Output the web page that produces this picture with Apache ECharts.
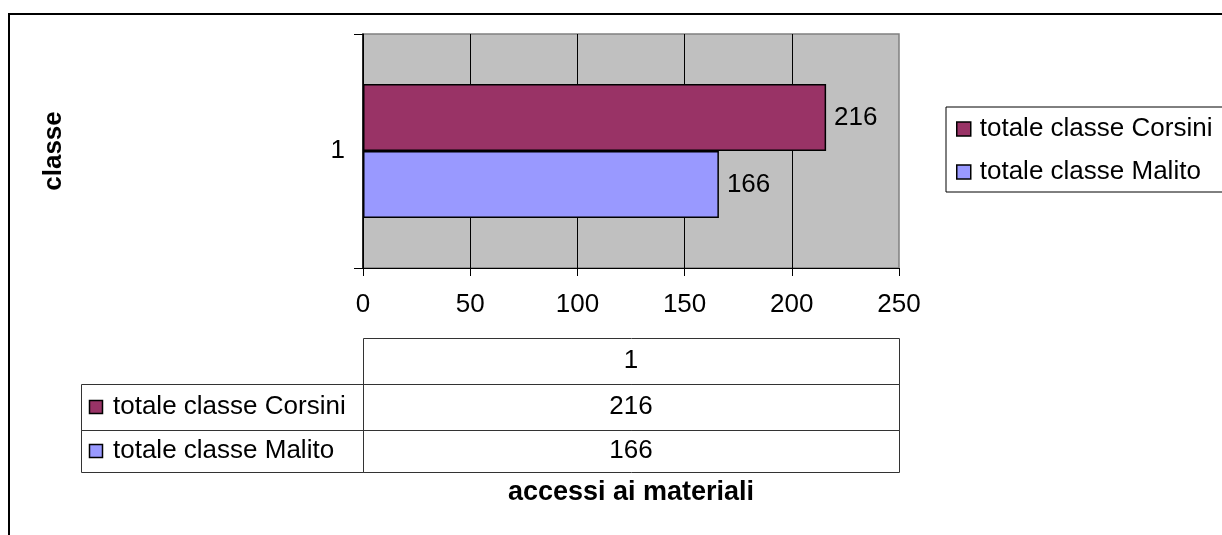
<!DOCTYPE html>
<html>
<head>
<meta charset="utf-8">
<script src="https://cdn.jsdelivr.net/npm/echarts@6/dist/echarts.min.js"></script>
<style>
  html, body { margin: 0; padding: 0; background: #fff; }
  #chart { width: 1222px; height: 535px; }
</style>
</head>
<body>
<div id="chart"></div>
<script>
// Categories on the vertical axis
const categories = ['1'];
// Series names and values
const seriesNames = ['totale classe Corsini', 'totale classe Malito'];
const corsiniValues = [216];
const malitoValues = [166];
const seriesColors = ['#993366', '#9999ff'];
// Value axis range
const axisMin = 0;
const axisMax = 250;
const axisStep = 50;
// Axis titles
const yTitle = 'classe';
const xTitle = 'accessi ai materiali';

const FONT = "'Liberation Sans', Arial, sans-serif";
const FS = 26;

const W = 1222, H = 535;
const plotLeft = 363, plotRight = 899, plotTop = 34, plotBottom = 268;

const seriesValues = [corsiniValues, malitoValues];

// Data table under the plot
const rowBounds = [338, 384, 430, 472];
const tableLabelLeft = 81;
const tableMid = (plotLeft + plotRight) / 2;
const lineColor = '#333';

const graphic = [];
// outer frame
graphic.push({
  type: 'rect', shape: { x: 9, y: 14, width: W + 20, height: H + 20 },
  style: { fill: 'none', stroke: '#000', lineWidth: 2 }, silent: true
});
// header cell
graphic.push({
  type: 'rect', shape: { x: plotLeft + 0.5, y: rowBounds[0] + 0.5, width: plotRight - plotLeft, height: rowBounds[1] - rowBounds[0] },
  style: { fill: 'none', stroke: lineColor, lineWidth: 1 }
});
graphic.push({
  type: 'text', x: tableMid, y: (rowBounds[0] + rowBounds[1]) / 2,
  style: { text: categories[0], font: FS + 'px ' + FONT, fill: '#000', align: 'center', verticalAlign: 'middle' }
});
seriesNames.forEach((name, i) => {
  const y0 = rowBounds[i + 1], y1 = rowBounds[i + 2];
  const cy = (y0 + y1) / 2;
  graphic.push({
    type: 'rect', shape: { x: tableLabelLeft + 0.5, y: y0 + 0.5, width: plotLeft - tableLabelLeft, height: y1 - y0 },
    style: { fill: 'none', stroke: lineColor, lineWidth: 1 }
  });
  graphic.push({
    type: 'rect', shape: { x: plotLeft + 0.5, y: y0 + 0.5, width: plotRight - plotLeft, height: y1 - y0 },
    style: { fill: 'none', stroke: lineColor, lineWidth: 1 }
  });
  graphic.push({
    type: 'rect', shape: { x: 89.5, y: Math.round(cy - 7) + 0.5, width: 13, height: 13 },
    style: { fill: seriesColors[i], stroke: '#000', lineWidth: 1.5 }
  });
  graphic.push({
    type: 'text', x: 113, y: cy,
    style: { text: name, font: FS + 'px ' + FONT, fill: '#000', align: 'left', verticalAlign: 'middle' }
  });
  graphic.push({
    type: 'text', x: tableMid, y: cy,
    style: { text: String(seriesValues[i][0]), font: FS + 'px ' + FONT, fill: '#000', align: 'center', verticalAlign: 'middle' }
  });
});
// horizontal axis title below the table
graphic.push({
  type: 'text', x: tableMid, y: 493,
  style: { text: xTitle, font: 'bold 27px ' + FONT, fill: '#000', align: 'center', verticalAlign: 'middle' }
});

const chart = echarts.init(document.getElementById('chart'), null, { renderer: 'canvas', width: W, height: H });

chart.setOption({
  animation: false,
  backgroundColor: '#fff',
  textStyle: { fontFamily: FONT },
  grid: {
    left: plotLeft, right: W - plotRight, top: plotTop, bottom: H - plotBottom,
    show: true, backgroundColor: '#c0c0c0', borderColor: '#808080', borderWidth: 1.5
  },
  legend: {
    orient: 'vertical', left: 946, top: 107,
    padding: [7, 40, 5, 10],
    itemWidth: 14, itemHeight: 14, itemGap: 13,
    icon: 'rect',
    borderColor: '#000', borderWidth: 1,
    textStyle: { fontSize: FS, color: '#000', fontFamily: FONT, lineHeight: 30, padding: [0, 0, 0, 4] },
    itemStyle: { borderColor: '#000', borderWidth: 1.5 },
    data: seriesNames
  },
  xAxis: {
    type: 'value', min: axisMin, max: axisMax, interval: axisStep,
    axisLine: { show: true, lineStyle: { color: '#000', width: 1 } },
    axisTick: { show: true, length: 8, lineStyle: { color: '#000' } },
    axisLabel: { fontSize: FS, color: '#000', margin: 24, fontFamily: FONT },
    splitLine: { show: true, showMaxLine: false, lineStyle: { color: '#000', width: 1 } }
  },
  yAxis: {
    type: 'category', data: categories, inverse: true,
    name: yTitle, nameLocation: 'middle', nameGap: 296, nameRotate: 90,
    nameTextStyle: { fontSize: FS, fontWeight: 'bold', color: '#000', fontFamily: FONT },
    axisLine: { show: true, lineStyle: { color: '#000', width: 1.5 } },
    axisTick: { show: true, length: 9, lineStyle: { color: '#000' } },
    axisLabel: { fontSize: FS, color: '#000', margin: 18, fontFamily: FONT },
    splitLine: { show: false }
  },
  series: seriesNames.map((name, i) => ({
    name: name, type: 'bar', data: seriesValues[i],
    barGap: '0%', barCategoryGap: '42.7%',
    itemStyle: { color: seriesColors[i], borderColor: '#000', borderWidth: 1.5 },
    label: { show: true, position: 'right', distance: 8, fontSize: FS, color: '#000', fontFamily: FONT }
  })),
  graphic: graphic
});
</script>
</body>
</html>
